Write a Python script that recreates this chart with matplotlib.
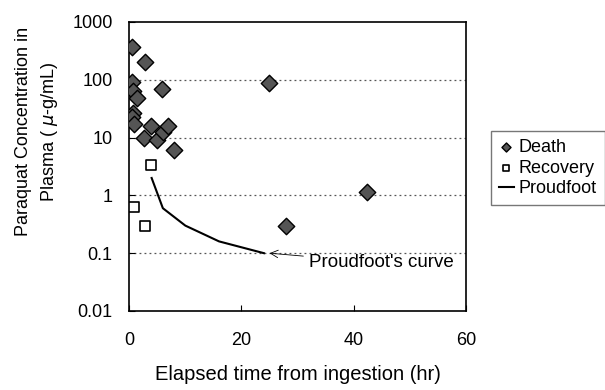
import numpy as np
import matplotlib.pyplot as plt

plt.rcParams['font.family'] = ['Liberation Sans', 'DejaVu Sans']

# Death cases: hours after ingestion, plasma conc (ug/mL)
death_t = [0.5, 2.9, 0.5, 0.6, 1.4, 5.9, 24.9, 0.7, 0.5, 0.9, 3.9, 2.7, 4.9, 6.0, 7.0, 7.9, 28.0, 42.3]
death_c = [375, 200, 90, 63, 48, 69, 88, 27, 23, 17.5, 15.7, 10, 9, 12.6, 15.7, 6.2, 0.29, 1.14]

# Recovery cases
rec_t = [3.9, 0.8, 2.9]
rec_c = [3.4, 0.62, 0.30]

# Proudfoot's curve
pf_t = [4, 6, 10, 16, 24]
pf_c = [2.0, 0.6, 0.3, 0.16, 0.1]

fig = plt.figure(figsize=(6.05, 3.9), dpi=100)
ax = fig.add_axes([0.2135, 0.2026, 0.557, 0.741])

ax.scatter(death_t, death_c, marker='D', s=70, facecolor='#555555', edgecolor='black',
           linewidth=1.0, label='Death', zorder=3)
ax.scatter(rec_t, rec_c, marker='s', s=50, facecolor='white', edgecolor='black',
           linewidth=1.2, label='Recovery', zorder=3)
ax.plot(pf_t, pf_c, color='black', linewidth=1.5, label='Proudfoot', zorder=2)

ax.set_yscale('log')
ax.set_xlim(0, 60)
ax.set_ylim(0.01, 1000)
ax.set_xticks([0, 20, 40, 60])
ax.set_yticks([0.01, 0.1, 1, 10, 100, 1000])
ax.set_yticklabels(['0.01', '0.1', '1', '10', '100', '1000'])
ax.yaxis.set_minor_locator(plt.NullLocator())
ax.tick_params(direction='in', labelsize=13, length=4)
ax.tick_params(axis='y', pad=12)
ax.tick_params(axis='x', pad=15)

for v in [0.1, 1, 10, 100]:
    ax.axhline(v, color='#555555', linestyle=(0, (1.5, 2.5)), linewidth=0.9, zorder=1)

for s in ax.spines.values():
    s.set_linewidth(1.2)

ax.set_xlabel('Elapsed time from ingestion (hr)', fontsize=14.5, labelpad=12)
ax.set_ylabel('Paraquat Concentration in\nPlasma ( $\\mu$-g/mL)', fontsize=13, linespacing=1.5)
ax.yaxis.set_label_coords(-0.205, 0.62)

ax.annotate("Proudfoot's curve", xy=(25, 0.1), xytext=(32, 0.068),
            fontsize=13.5, va='center',
            arrowprops=dict(arrowstyle='->', color='black', linewidth=0.6,
                            shrinkA=2, shrinkB=0))

ax.legend(loc='upper left', bbox_to_anchor=(491 / 605, 1 - 131 / 390), bbox_transform=fig.transFigure,
          fontsize=13, frameon=True, fancybox=False, edgecolor='#555555',
          handlelength=0.8, handletextpad=0.3, borderpad=0.45, labelspacing=0.2,
          markerscale=0.55, borderaxespad=0)

fig.savefig('out.png', dpi=100)
